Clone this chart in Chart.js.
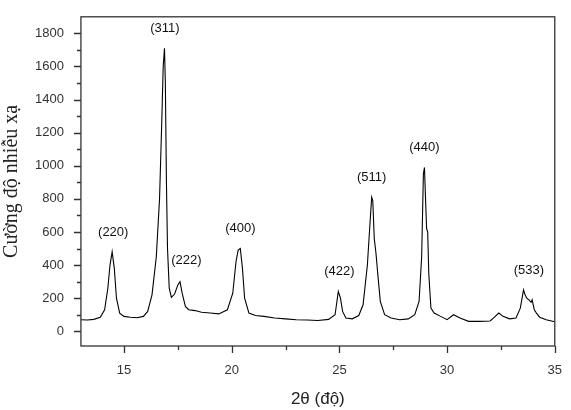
<!DOCTYPE html><html><head><script src="https://cdn.jsdelivr.net/npm/chart.js@4"></script>
<style>body{margin:0;background:#fff}#w{width:571px;height:410px}</style></head><body><div id="w"><canvas id="c"></canvas></div>
<script>
const twoTheta=[13,13.3,13.6,13.9,14.1,14.25,14.35,14.45,14.55,14.65,14.8,15,15.3,15.6,15.9,16.1,16.3,16.5,16.65,16.75,16.82,16.88,16.92,16.97,17.02,17.1,17.2,17.35,17.5,17.6,17.7,17.85,18,18.3,18.6,19,19.4,19.8,20.05,20.2,20.3,20.4,20.5,20.6,20.8,21.1,21.5,22,22.5,23,23.5,24,24.5,24.8,24.95,25.05,25.15,25.3,25.6,25.9,26.1,26.3,26.42,26.5,26.55,26.62,26.7,26.78,26.9,27.1,27.4,27.8,28.2,28.5,28.7,28.82,28.9,28.95,29.0,29.05,29.1,29.15,29.25,29.4,29.7,30,30.3,30.6,31,31.5,32,32.2,32.4,32.6,32.9,33.2,33.4,33.55,33.62,33.7,33.8,33.9,33.95,34.05,34.15,34.3,34.6,35];
const intensity=[70,68,72,85,130,260,400,480,380,200,110,90,85,82,90,120,220,450,800,1250,1600,1710,1500,900,500,260,205,225,280,300,230,150,130,125,115,110,105,130,230,420,490,500,380,200,110,95,90,80,75,70,68,65,72,100,240,200,120,80,75,95,160,400,650,810,790,560,470,350,180,100,80,70,75,100,180,450,950,990,800,620,600,350,140,110,90,70,100,80,60,60,62,85,110,90,75,80,140,250,220,200,190,175,190,130,110,85,70,58];
const peakLabels=['(220)','(311)','(222)','(400)','(422)','(511)','(440)','(533)'];
const labelX=[14.5,16.9,17.9,20.4,25.0,26.5,28.95,33.8];
const labelY=[560,1790,390,580,320,890,1070,330];
const xTicks=[15,20,25,30,35];
const yTicks=[0,200,400,600,800,1000,1200,1400,1600,1800];

const deco={id:'deco',afterDraw(ch){
 const c=ch.ctx,a=ch.chartArea,x=ch.scales.x,y=ch.scales.y;
 c.save();c.strokeStyle='#333';c.lineWidth=1.3;
 c.strokeRect(a.left,a.top,a.right-a.left,a.bottom-a.top);
 c.beginPath();
 for(let v=15;v<=35;v+=2.5){const p=Math.round(x.getPixelForValue(v))+.5;const L=(v%5===0)?7:4;c.moveTo(p,a.bottom);c.lineTo(p,a.bottom+L);}
 for(let v=0;v<=1800;v+=100){const p=Math.round(y.getPixelForValue(v))+.5;const L=(v%200===0)?7:4;c.moveTo(a.left,p);c.lineTo(a.left-L,p);}
 c.stroke();
 c.fillStyle='#111';c.font='13px "Liberation Sans"';c.textAlign='center';c.textBaseline='bottom';
 peakLabels.forEach((t,i)=>c.fillText(t,x.getPixelForValue(labelX[i]),y.getPixelForValue(labelY[i])));
 c.restore();}};

new Chart(document.getElementById('c'),{type:'scatter',
 data:{datasets:[{data:twoTheta.map((v,i)=>({x:v,y:intensity[i]})),showLine:true,pointRadius:0,borderColor:'#000',borderWidth:1.1,tension:0}]},
 options:{responsive:true,maintainAspectRatio:false,animation:false,
  layout:{padding:{top:13,right:16,left:0,bottom:0}},
  plugins:{legend:{display:false},tooltip:{enabled:false}},
  scales:{
   x:{type:'linear',min:13,max:35,afterBuildTicks:s=>{s.ticks=xTicks.map(v=>({value:v}))},
      grid:{display:false},border:{display:false},
      ticks:{color:'#333',font:{family:'Liberation Sans',size:13},padding:9,maxRotation:0,callback:v=>String(v)},
      title:{display:true,text:'2θ (độ)',color:'#222',font:{family:'Liberation Sans',size:17},padding:{top:2,bottom:0}}},
   y:{min:-89,max:1900,afterBuildTicks:s=>{s.ticks=yTicks.map(v=>({value:v}))},
      grid:{display:false},border:{display:false},
      ticks:{color:'#333',font:{family:'Liberation Sans',size:13},padding:9,callback:v=>String(v)},
      title:{display:true,text:'Cường độ nhiễu xạ',color:'#222',font:{family:'Liberation Serif',size:20},padding:{top:0,bottom:2}}}}},
 plugins:[deco]});
</script></body></html>
